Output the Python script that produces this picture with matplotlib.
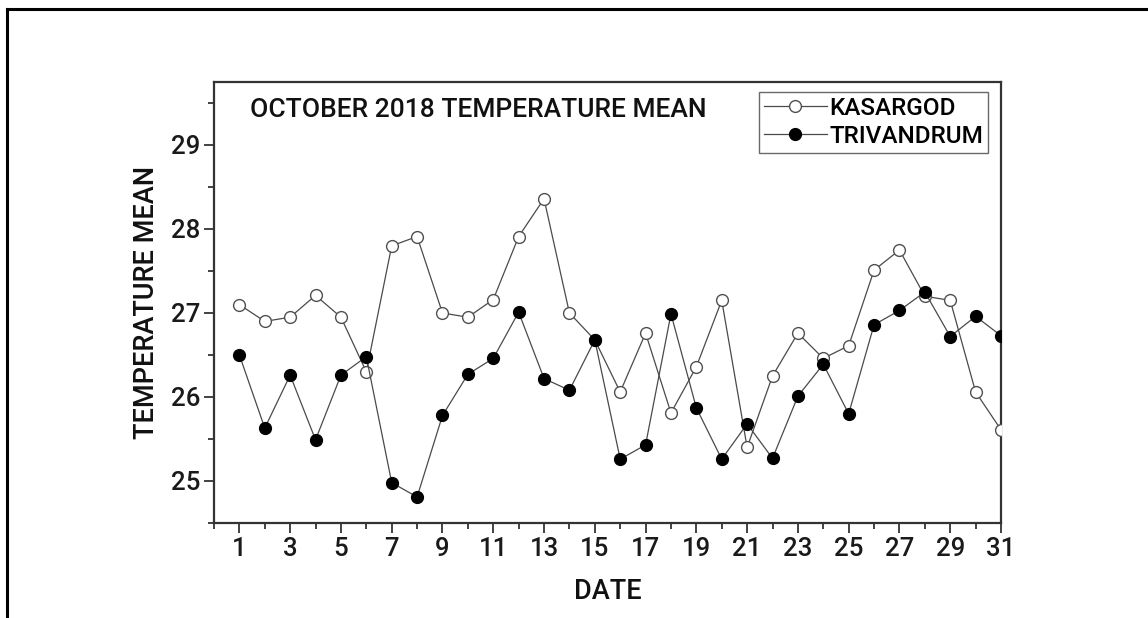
import matplotlib
matplotlib.use("Agg")
import matplotlib.pyplot as plt
from matplotlib.lines import Line2D
from matplotlib.ticker import MultipleLocator

plt.rcParams['font.family'] = ['Roboto', 'DejaVu Sans']

days = list(range(1, 32))
kasargod = [27.10, 26.90, 26.95, 27.21, 26.95, 26.30, 27.80, 27.91, 27.00, 26.95,
            27.16, 27.91, 28.36, 27.00, 26.68, 26.06, 26.76, 25.81, 26.36, 27.15,
            25.40, 26.25, 26.76, 26.46, 26.61, 27.51, 27.75, 27.20, 27.15, 26.06,
            25.61]
trivandrum = [26.50, 25.63, 26.26, 25.49, 26.26, 26.48, 24.98, 24.81, 25.78, 26.27,
              26.46, 27.01, 26.22, 26.08, 26.68, 25.26, 25.43, 26.99, 25.87, 25.26,
              25.68, 25.27, 26.01, 26.39, 25.80, 26.86, 27.03, 27.25, 26.72, 26.96,
              26.73]
x_ticks = [1, 3, 5, 7, 9, 11, 13, 15, 17, 19, 21, 23, 25, 27, 29, 31]
y_ticks = [25, 26, 27, 28, 29]

W, H = 1148, 618
fig = plt.figure(figsize=(W / 100, H / 100), dpi=100)
ax = fig.add_axes([214 / W, 1 - 523 / H, (1001 - 214) / W, (523 - 82) / H])

line_col = '#4a4a4a'
ax.plot(days, kasargod, color=line_col, lw=0.9, marker='o', ms=8.5,
        mfc='white', mec='#505050', mew=1.0, label='KASARGOD', zorder=3)
ax.plot(days, trivandrum, color=line_col, lw=0.9, marker='o', ms=8.5,
        mfc='black', mec='black', mew=1.0, label='TRIVANDRUM', zorder=4)

ax.set_xlim(0, 31)
ax.set_ylim(24.5, 29.75)
ax.set_xticks(x_ticks)
ax.set_yticks(y_ticks)
ax.xaxis.set_minor_locator(MultipleLocator(1))
ax.yaxis.set_minor_locator(MultipleLocator(0.5))
ax.tick_params(which='major', direction='out', length=7, width=1.2, labelsize=18.5,
               color='#222222', labelcolor='#1a1a1a', pad=3)
ax.tick_params(which='minor', direction='out', length=4, width=1.2, color='#222222')
ax.tick_params(axis='x', which='minor', labelbottom=False)
for lbl in ax.get_xticklabels() + ax.get_yticklabels():
    lbl.set_fontweight('medium')
for s in ax.spines.values():
    s.set_linewidth(1.6)
    s.set_color('#333333')

ax.set_xlabel('DATE', fontsize=19.5, color='#111111', labelpad=12, fontweight='medium')
ax.set_ylabel('TEMPERATURE MEAN', fontsize=19.5, color='#111111', labelpad=8,
              fontweight='medium')

ax.text(36 / 787, 1 - 28 / 441, 'OCTOBER 2018 TEMPERATURE MEAN', transform=ax.transAxes,
        fontsize=19, color='#111111', va='center', ha='left', fontweight='medium')

leg = ax.legend(loc='upper right', bbox_to_anchor=(988 / 787 - 214 / 787, 1 - 10 / 441),
                frameon=True, fancybox=False, fontsize=17.5, handlelength=2.6,
                handletextpad=0.1, borderpad=0.2, labelspacing=0.2,
                borderaxespad=0, prop={'weight': 'medium', 'size': 17.5})
leg.get_frame().set_edgecolor('#444444')
leg.get_frame().set_linewidth(1.0)

# outer frame: top and left edges
fig.add_artist(Line2D([7 / W, 1.0], [1 - 9 / H, 1 - 9 / H], transform=fig.transFigure,
                      color='black', lw=2.2))
fig.add_artist(Line2D([7 / W, 7 / W], [1 - 9 / H, 0.0], transform=fig.transFigure,
                      color='black', lw=2.2))

fig.savefig('out.png', dpi=100, facecolor='white')
